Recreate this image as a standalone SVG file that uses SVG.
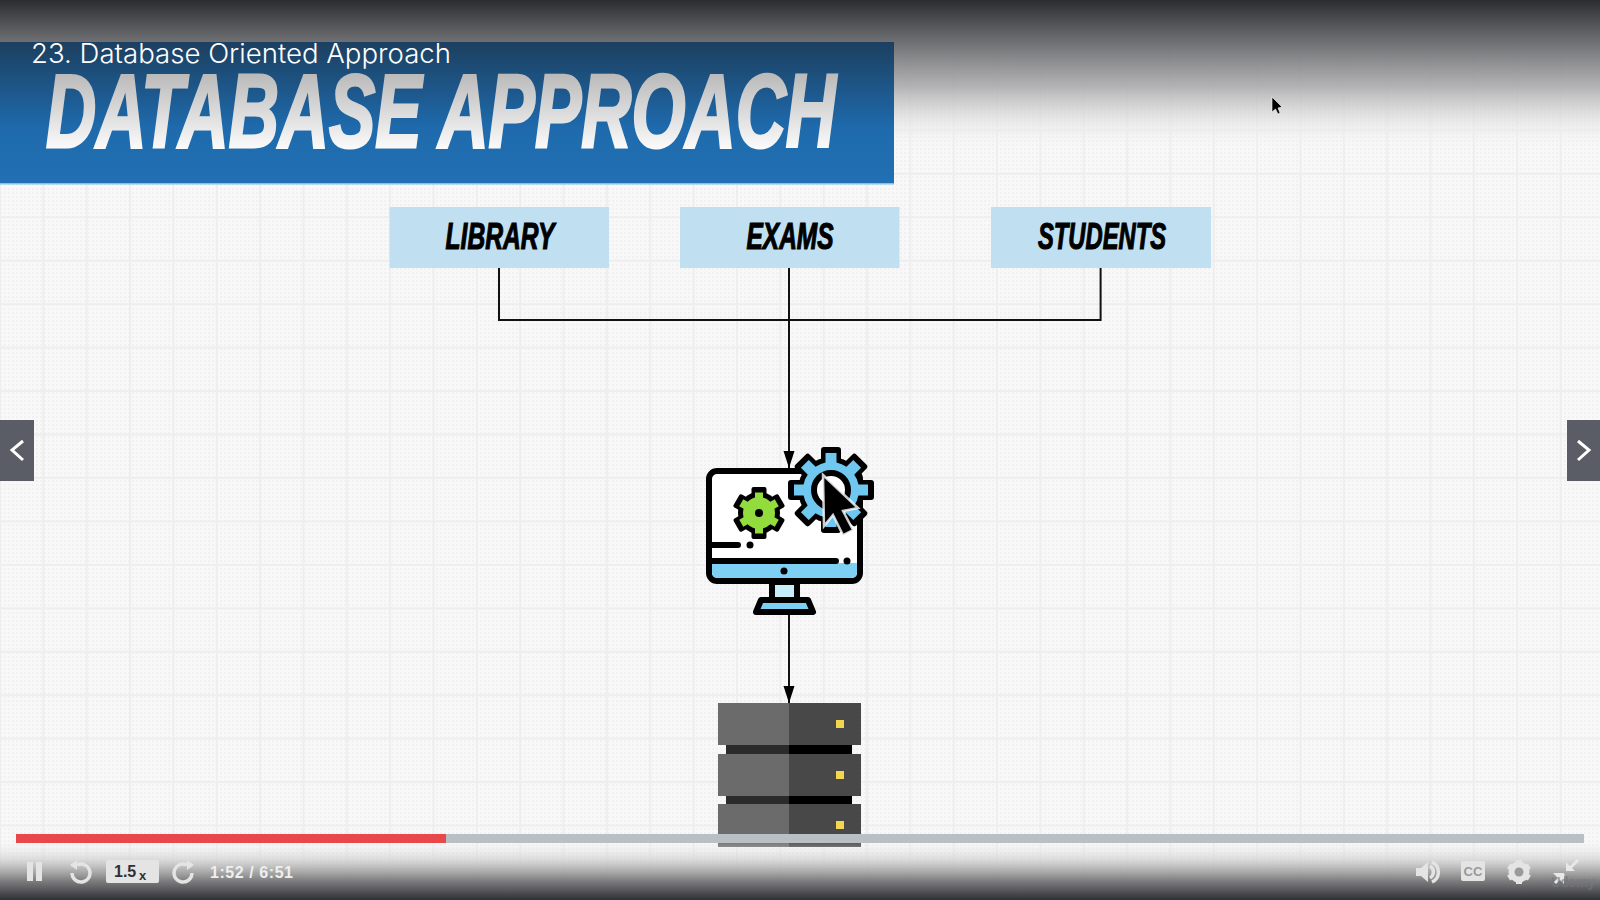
<svg xmlns="http://www.w3.org/2000/svg" width="1600" height="900" viewBox="0 0 1600 900">
<defs>
<pattern id="dots" width="4" height="4" patternUnits="userSpaceOnUse"><rect width="4" height="4" fill="#f8f8f8"/><rect width="2" height="2" fill="#f1f1f1"/></pattern>
<pattern id="grid" width="43.35" height="43.45" patternUnits="userSpaceOnUse"><path d="M0 0V43.45M43.35 0V43.45M0 0H43.35M0 43.45H43.35" stroke="#eeeeee" stroke-width="2" fill="none"/></pattern>
<linearGradient id="top" x1="0" y1="0" x2="0" y2="1"><stop offset="0" stop-color="#2b2c31"/><stop offset=".13" stop-color="#46474b" stop-opacity=".97"/><stop offset=".29" stop-color="#6a6b6e" stop-opacity=".95"/><stop offset=".58" stop-color="#acacae" stop-opacity=".9"/><stop offset=".85" stop-color="#e8e8e8" stop-opacity=".55"/><stop offset="1" stop-color="#f4f4f4" stop-opacity="0"/></linearGradient>
<linearGradient id="bot" x1="0" y1="0" x2="0" y2="1"><stop offset="0" stop-color="#f0f0f0" stop-opacity="0"/><stop offset=".33" stop-color="#d0d0d0" stop-opacity=".75"/><stop offset=".67" stop-color="#808082"/><stop offset="1" stop-color="#2f3035"/></linearGradient>
<linearGradient id="ban" x1="0" y1="0" x2="0" y2="1"><stop offset="0" stop-color="#1c3f5f"/><stop offset=".6" stop-color="#1e6aac"/><stop offset="1" stop-color="#2170b3"/></linearGradient>
<linearGradient id="ttl" gradientUnits="userSpaceOnUse" x1="0" y1="72" x2="0" y2="148"><stop offset="0" stop-color="#b8b8b8"/><stop offset="1" stop-color="#fafafa"/></linearGradient>
<marker id="ah" markerUnits="userSpaceOnUse" markerWidth="17" markerHeight="12" refX="17" refY="6" orient="auto" viewBox="0 0 17 12"><path d="M0 0.5L17 6L0 11.500Z" fill="#000"/></marker>
<rect id="gt" x="-10" y="-43" width="20" height="20" rx="3"/>
<rect id="gb" x="-5.500" y="-37" width="11" height="14"/>
<rect id="st" x="-7.500" y="-26" width="15" height="12" rx="2"/>
<rect id="sg" x="-4" y="-20.500" width="8" height="8"/>
<style>
.lab{font:italic 700 37px "Liberation Sans",Arial,sans-serif;fill:#000;stroke:#000;stroke-width:1.2;text-anchor:middle}
.box{fill:#c0e0f2}
.ln{fill:none;stroke:#111;stroke-width:2}
.k{stroke:#000;stroke-width:6;stroke-linejoin:round;stroke-linecap:round}
.ctl{fill:#e4e4e4}
.ctls{fill:none;stroke:#e4e4e4;stroke-width:3.4}
</style>
</defs>
<rect width="1600" height="900" fill="url(#dots)"/>
<rect width="1600" height="900" fill="url(#grid)"/>
<rect width="1600" height="150" fill="url(#top)"/>
<g id="banner">
<rect x="0" y="42" width="894" height="142" fill="url(#ban)"/>
<rect x="0" y="183" width="894" height="1.5" fill="#7cc4ea"/>
<text x="46" y="147" font-family="Liberation Sans,Arial,sans-serif" font-weight="700" font-style="italic" font-size="104" fill="url(#ttl)" stroke="url(#ttl)" stroke-width="3" textLength="790" lengthAdjust="spacingAndGlyphs">DATABASE APPROACH</text>
<text x="31" y="63" font-family="Inter,Liberation Sans,Arial,sans-serif" font-weight="300" font-size="27" fill="#fff" textLength="420" lengthAdjust="spacingAndGlyphs">23. Database Oriented Approach</text>
</g>
<g id="connectors">
<path class="ln" d="M499 268V320H1100.600V268"/>
<path class="ln" d="M789 268V468" marker-end="url(#ah)"/>
<path class="ln" d="M789 610V703" marker-end="url(#ah)"/>
</g>
<g id="library"><rect class="box" x="389.500" y="207" width="219.500" height="61"/><text class="lab" x="500" y="249" textLength="109" lengthAdjust="spacingAndGlyphs">LIBRARY</text></g>
<g id="exams"><rect class="box" x="680" y="207" width="219.500" height="61"/><text class="lab" x="790" y="249" textLength="87" lengthAdjust="spacingAndGlyphs">EXAMS</text></g>
<g id="students"><rect class="box" x="991" y="207" width="220" height="61"/><text class="lab" x="1102" y="249" textLength="128" lengthAdjust="spacingAndGlyphs">STUDENTS</text></g>
<g id="application">
<rect x="772" y="582" width="25" height="20" fill="#c5effa" stroke="#000" stroke-width="6"/>
<path class="k" d="M756 612L761 600H808L813 612Z" fill="#7dd0f3"/>
<rect class="k" x="709" y="471" width="151" height="110" rx="8" fill="#fff"/>
<path d="M712 563H857V572Q857 578 851 578H718Q712 578 712 572Z" fill="#7dd0f3"/>
<path class="k" d="M709 561H836M709 545H738" fill="none"/>
<circle cx="847" cy="561" r="3.500"/><circle cx="750" cy="545" r="3.500"/><circle cx="784" cy="571" r="3.500"/>
<g transform="translate(759 513)">
<circle r="21"/><use href="#st"/><use href="#st" transform="rotate(60)"/><use href="#st" transform="rotate(120)"/><use href="#st" transform="rotate(180)"/><use href="#st" transform="rotate(240)"/><use href="#st" transform="rotate(300)"/>
<g fill="#93dc3e"><circle r="16"/><use href="#sg"/><use href="#sg" transform="rotate(60)"/><use href="#sg" transform="rotate(120)"/><use href="#sg" transform="rotate(180)"/><use href="#sg" transform="rotate(240)"/><use href="#sg" transform="rotate(300)"/></g>
<circle r="4"/></g>
<g transform="translate(831 490)">
<circle r="33"/><use href="#gt"/><use href="#gt" transform="rotate(45)"/><use href="#gt" transform="rotate(90)"/><use href="#gt" transform="rotate(135)"/><use href="#gt" transform="rotate(180)"/><use href="#gt" transform="rotate(225)"/><use href="#gt" transform="rotate(270)"/><use href="#gt" transform="rotate(315)"/>
<g fill="#70c8f0"><circle r="28"/><use href="#gb"/><use href="#gb" transform="rotate(45)"/><use href="#gb" transform="rotate(90)"/><use href="#gb" transform="rotate(135)"/><use href="#gb" transform="rotate(180)"/><use href="#gb" transform="rotate(225)"/><use href="#gb" transform="rotate(270)"/><use href="#gb" transform="rotate(315)"/></g>
<circle r="17" fill="#fff" stroke="#000" stroke-width="6"/></g>
<path d="M823 475L858 508L843 511L853 530L843 535L833 515L824 526Z" fill="#000" stroke="#fff" stroke-opacity=".8" stroke-width="2.500"/>
</g>
<g id="database">
<rect x="726" y="745" width="63" height="60" fill="#2b2b2b"/><rect x="789" y="745" width="63" height="60" fill="#000"/>
<g fill="#6b6b6b"><rect x="718" y="703" width="71" height="42"/><rect x="718" y="754" width="71" height="42"/><rect x="718" y="804" width="71" height="43"/></g>
<g fill="#484848"><rect x="789" y="703" width="72" height="42"/><rect x="789" y="754" width="72" height="42"/><rect x="789" y="804" width="72" height="43"/></g>
<g fill="#f3d54e"><rect x="836" y="720" width="8" height="8"/><rect x="836" y="771" width="8" height="8"/><rect x="836" y="821" width="8" height="8"/></g>
</g>
<rect y="840" width="1600" height="60" fill="url(#bot)"/>
<g id="player">
<rect x="16" y="834" width="1568" height="9" fill="#b9bfc2"/>
<rect x="16" y="834" width="430" height="9" fill="#e8474b"/>
<rect x="0" y="420" width="34" height="61" fill="#5a5d66"/><path d="M23 441L12 450L23 460" fill="none" stroke="#fff" stroke-width="3"/>
<rect x="1567" y="420" width="33" height="61" fill="#5a5d66"/><path d="M1578 441L1589 450L1578 460" fill="none" stroke="#fff" stroke-width="3"/>
<path d="M1272 97L1272 112L1275.500 109L1278 114L1280 113L1278 108L1282 107Z" fill="#000" stroke="#fff" stroke-width=".6"/>
<rect class="ctl" x="27" y="862" width="6" height="19"/><rect class="ctl" x="36" y="862" width="6" height="19"/>
<path class="ctls" d="M77 865A9 9 0 1 1 72 873"/><path class="ctl" d="M77 860V870L70 865Z"/>
<path class="ctls" d="M187 865A9 9 0 1 0 192 873"/><path class="ctl" d="M187 860V870L194 865Z"/>
<rect class="ctl" x="106" y="860" width="53" height="23" rx="2"/>
<text x="114" y="877" font-family="Liberation Sans,Arial,sans-serif" font-weight="700" font-size="16" fill="#2f3035">1.5</text>
<text x="139" y="880" font-family="Liberation Sans,Arial,sans-serif" font-weight="700" font-size="13" fill="#2f3035">x</text>
<text x="210" y="878" font-family="Liberation Sans,Arial,sans-serif" font-weight="700" font-size="16" fill="#efefef" textLength="83">1:52 / 6:51</text>
<path class="ctl" d="M1416 868H1421L1428 862V882L1421 876H1416Z"/><path class="ctls" d="M1430 866A7 7 0 0 1 1430 878" stroke-width="2.500"/><path class="ctls" d="M1432 862A11 11 0 0 1 1432 882" stroke-width="2"/>
<rect class="ctl" x="1461" y="861" width="24" height="20" rx="2"/>
<text x="1473" y="876" text-anchor="middle" font-family="Liberation Sans,Arial,sans-serif" font-weight="700" font-size="13" fill="#9a9a9c">CC</text>
<circle cx="1519" cy="872" r="7.500" fill="none" stroke="#e4e4e4" stroke-width="6"/><g fill="#e4e4e4"><rect x="1516" y="860" width="6" height="24"/><rect x="1516" y="860" width="6" height="24" transform="rotate(60 1519 872)"/><rect x="1516" y="860" width="6" height="24" transform="rotate(120 1519 872)"/></g><circle cx="1519" cy="872" r="4.500" fill="#9a9a9c"/>
<path d="M1578 860L1569 869M1555 883L1564 874" stroke="#e8e8e8" stroke-width="3" fill="none"/><path d="M1566 862V871H1575ZM1553 873H1564V884Z" fill="#e8e8e8"/>
<text x="1551" y="887" font-family="Liberation Sans,Arial,sans-serif" font-size="15" font-weight="700" fill="#77777a" fill-opacity=".7" textLength="44" lengthAdjust="spacingAndGlyphs">Udemy</text>
</g>
</svg>
